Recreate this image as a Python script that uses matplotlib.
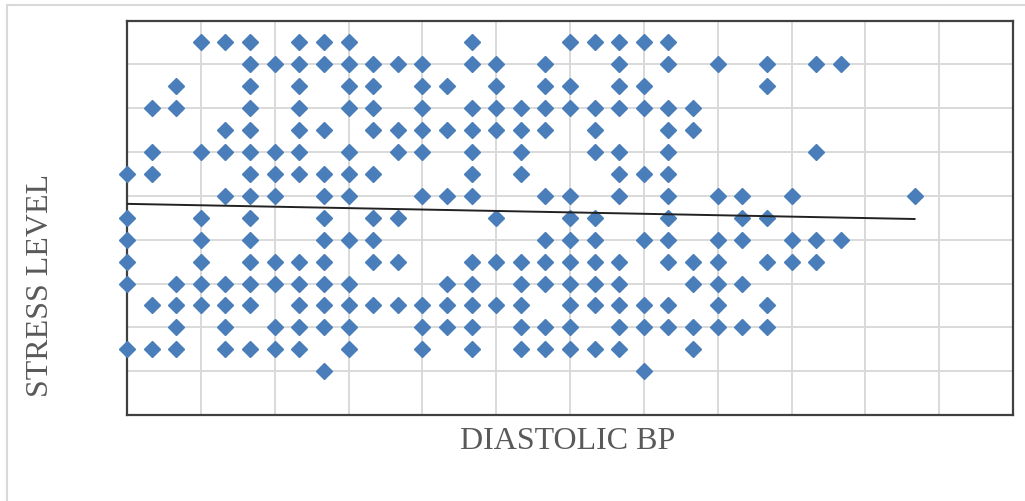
import numpy as np
import matplotlib
matplotlib.use("Agg")
import matplotlib.pyplot as plt
from matplotlib.patches import Rectangle

# Diastolic BP readings for each stress level
stress_levels = [17, 16, 15, 14, 13, 12, 11, 10, 9, 8, 7, 6, 5, 4, 3, 2]
bp_by_level = [
    [63, 64, 65, 67, 68, 69, 74, 78, 79, 80, 81, 82],
    [65, 66, 67, 68, 69, 70, 71, 72, 74, 75, 77, 80, 82, 84, 86, 88, 89],
    [62, 65, 67, 69, 70, 72, 73, 75, 77, 78, 80, 81, 86],
    [61, 62, 65, 67, 69, 70, 72, 74, 75, 76, 77, 78, 79, 80, 81, 82, 83],
    [64, 65, 67, 68, 70, 71, 72, 73, 74, 75, 76, 77, 79, 82, 83],
    [61, 63, 64, 65, 66, 67, 69, 71, 72, 74, 76, 79, 80, 82, 88],
    [60, 61, 65, 66, 67, 68, 69, 70, 74, 76, 80, 81, 82],
    [64, 65, 66, 68, 69, 72, 73, 74, 77, 78, 80, 82, 84, 85, 87, 92],
    [60, 63, 65, 68, 70, 71, 75, 78, 79, 82, 85, 86],
    [60, 63, 65, 68, 69, 70, 77, 78, 79, 81, 82, 84, 85, 87, 88, 89],
    [60, 63, 65, 66, 67, 68, 70, 71, 74, 75, 76, 77, 78, 79, 80, 82, 83, 84, 86, 87, 88],
    [60, 62, 63, 64, 65, 66, 67, 68, 69, 73, 74, 76, 77, 78, 79, 80, 83, 84, 85],
    [61, 62, 63, 64, 65, 67, 68, 69, 70, 71, 72, 73, 74, 75, 76, 78, 79, 80, 81, 82, 84, 86],
    [62, 64, 66, 67, 68, 69, 72, 73, 74, 76, 77, 78, 80, 81, 82, 83, 84, 85, 86],
    [60, 61, 62, 64, 65, 66, 67, 69, 72, 74, 76, 77, 78, 79, 80, 83],
    [68, 81],
]

# linear trendline as shown on the chart (many points overlap, so read it off)
trend_slope = -0.0216
trend_intercept = 10.93

bp = np.array([x for row in bp_by_level for x in row], dtype=float)
stress = np.array([lvl for lvl, row in zip(stress_levels, bp_by_level) for _ in row], dtype=float)
xfit = np.array([bp.min(), bp.max()])

fig = plt.figure(figsize=(10.25, 5.01), dpi=100, facecolor='w')
ax = fig.add_axes([127 / 1025, 86 / 501, 886 / 1025, 394.5 / 501])

ax.plot(bp, stress, linestyle='none', marker='D', ms=8.6, color='#4A7EBB',
        zorder=3, clip_on=False)
ax.plot(xfit, trend_slope * xfit + trend_intercept, color='#222222', lw=1.4, zorder=4)

ax.set_xlim(60, 96)
ax.set_ylim(0, 18)
ax.set_xticks(np.arange(60, 97, 3))
ax.set_yticks(np.arange(0, 19, 2))
ax.tick_params(length=0, labelbottom=False, labelleft=False)
ax.grid(True, color='#d9d9d9', lw=1.4)
ax.set_axisbelow(True)
for spine in ax.spines.values():
    spine.set_color('#404040')
    spine.set_linewidth(1.6)

font = dict(family='Liberation Serif', size=23, color='#595959')
fig.text(567.5 / 1025, 1 - 449 / 501, 'DIASTOLIC BP', ha='center', va='baseline', **font)
fig.text(48 / 1025, 1 - 285.5 / 501, 'STRESS LEVEL', rotation=90, rotation_mode='anchor',
         ha='center', va='baseline', **font)

# light frame around the chart object
fig.add_artist(Rectangle((7 / 1025, -0.1), 1.2, 1.1 - 5 / 501,
                         transform=fig.transFigure, fill=False,
                         edgecolor='#d9d9d9', lw=1.5))

fig.savefig('out.png', dpi=100, facecolor='w')
